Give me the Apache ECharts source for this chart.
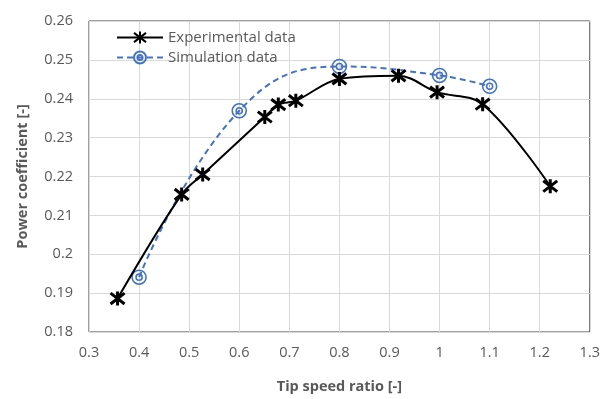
<!DOCTYPE html>
<html>
<head>
<meta charset="utf-8">
<script src="https://cdn.jsdelivr.net/npm/echarts@6/dist/echarts.min.js"></script>
<style>
  html, body { margin: 0; padding: 0; background: #fff; }
  #chart { width: 603px; height: 399px; }
</style>
</head>
<body>
<div id="chart"></div>
<script>
// Measured power coefficient vs tip speed ratio
const expTsr = [0.357, 0.485, 0.527, 0.651, 0.678, 0.713, 0.800, 0.918, 0.995, 1.086, 1.221];
const expCp  = [0.1886, 0.2154, 0.2205, 0.2353, 0.2385, 0.2395, 0.2451, 0.2459, 0.2417, 0.2386, 0.2175];

// Simulated power coefficient
const simTsr = [0.4, 0.6, 0.8, 1.0, 1.1];
const simCp  = [0.1941, 0.2369, 0.2483, 0.2460, 0.2432];

const xTicks = [0.3, 1.3, 0.1];
const yTicks = [0.18, 0.26, 0.01];

const pairs = (xs, ys) => xs.map((x, i) => [x, ys[i]]);

// asterisk marker: X with a vertical bar
const starPath = 'path://M0,0L10,10M10,0L0,10M5,-1.5L5,11.5';
// ring with a small inner ring
const ringPath = 'path://M0,-6A6,6 0 1,1 0,6A6,6 0 1,1 0,-6ZM0,-2.6A2.6,2.6 0 1,1 0,2.6A2.6,2.6 0 1,1 0,-2.6Z';

const gray = '#595959';
const font = '"Open Sans", "Noto Sans", sans-serif';

const chart = echarts.init(document.getElementById('chart'));
chart.setOption({
  animation: false,
  backgroundColor: '#fff',
  textStyle: { fontFamily: font },
  grid: {
    left: 89, right: 11, top: 21, bottom: 66,
    show: true, borderColor: '#404040', borderWidth: 1
  },
  legend: {
    left: 111, top: 25, orient: 'vertical',
    itemWidth: 46, itemHeight: 15, itemGap: 5,
    textStyle: { color: gray, fontSize: 15, fontFamily: font },
    data: ['Experimental data', 'Simulation data']
  },
  xAxis: {
    type: 'value',
    min: xTicks[0], max: xTicks[1], interval: xTicks[2],
    name: 'Tip speed ratio [-]',
    nameLocation: 'middle', nameGap: 47,
    nameTextStyle: { color: gray, fontSize: 14.5, fontWeight: 'bold', fontFamily: font },
    axisLine: { show: false },
    axisTick: { show: false },
    axisLabel: { color: gray, fontSize: 14.5, margin: 13,
      formatter: v => String(parseFloat(v.toFixed(2))) },
    splitLine: { lineStyle: { color: '#d9d9d9', width: 1 } }
  },
  yAxis: {
    type: 'value',
    min: yTicks[0], max: yTicks[1], interval: yTicks[2],
    name: 'Power coefficient [-]',
    nameLocation: 'middle', nameGap: 59,
    nameTextStyle: { color: gray, fontSize: 14.5, fontWeight: 'bold', fontFamily: font },
    axisLine: { show: false },
    axisTick: { show: false },
    axisLabel: { color: gray, fontSize: 14.5, margin: 16,
      formatter: v => String(parseFloat(v.toFixed(2))) },
    splitLine: { lineStyle: { color: '#d9d9d9', width: 1 } }
  },
  series: [
    {
      name: 'Experimental data',
      type: 'line',
      data: pairs(expTsr, expCp),
      smooth: 0.35,
      symbol: starPath,
      symbolSize: 14,
      lineStyle: { color: '#000', width: 2 },
      itemStyle: { color: '#000', borderColor: '#000', borderWidth: 3 },
      z: 3
    },
    {
      name: 'Simulation data',
      type: 'line',
      data: pairs(simTsr, simCp),
      smooth: 0.45,
      symbol: ringPath,
      symbolSize: 14,
      lineStyle: { color: '#4472C4', width: 2, type: [6, 4] },
      itemStyle: { color: 'rgba(0,0,0,0)', borderColor: '#4472C4', borderWidth: 1.6 },
      z: 2
    }
  ]
});
</script>
</body>
</html>
